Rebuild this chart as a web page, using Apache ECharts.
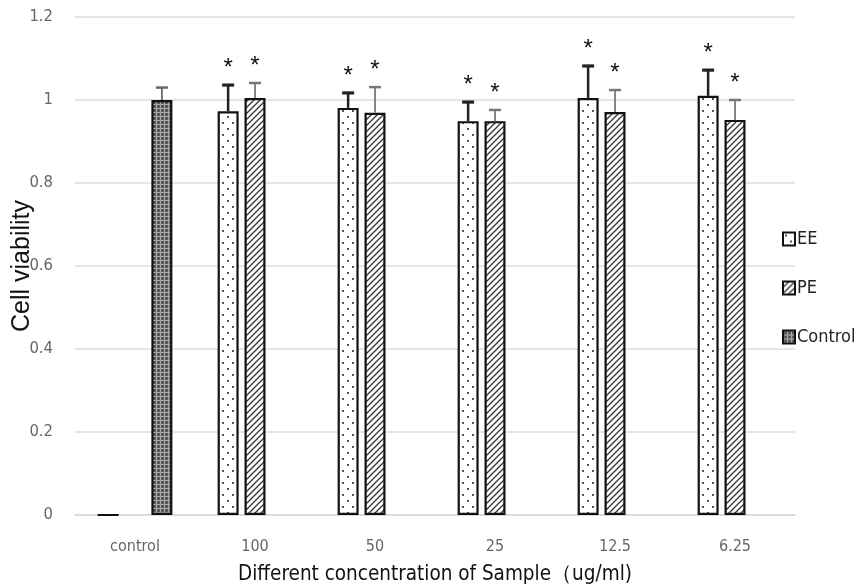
<!DOCTYPE html>
<html><head><meta charset="utf-8">
<script src="https://cdn.jsdelivr.net/npm/echarts@6/dist/echarts.min.js"></script>
<style>html,body{margin:0;padding:0;background:#fff}#c{width:860px;height:588px}</style>
</head><body><div id="c"></div>
<script>
const categories = ['control', '100', '50', '25', '12.5', '6.25'];
const eeValues = [0, 0.973, 0.981, 0.949, 1.005, 1.010];
const eeErrors = [0, 0.063, 0.036, 0.046, 0.077, 0.062];
const peValues = [null, 1.005, 0.969, 0.949, 0.971, 0.952];
const peErrors = [null, 0.036, 0.062, 0.027, 0.053, 0.048];
const controlValues = [1.0, null, null, null, null, null];
const controlErrors = [0.03, null, null, null, null, null];
const eeMarks = ['', '*', '*', '*', '*', '*'];
const peMarks = ['', '*', '*', '*', '*', '*'];
const yTicks = [0, 0.2, 0.4, 0.6, 0.8, 1.0, 1.2];

const NARROW = "'DejaVu Sans Condensed', 'Liberation Sans', sans-serif";

function makePattern(kind) {
  const c = document.createElement('canvas');
  const ctx = c.getContext('2d');
  if (kind === 'dots') {
    c.width = 10; c.height = 12;
    ctx.fillStyle = '#fff'; ctx.fillRect(0, 0, 10, 12);
    ctx.fillStyle = '#555';
    ctx.fillRect(2, 2, 2, 2);
    ctx.fillRect(7, 8, 2, 2);
  } else if (kind === 'hatch') {
    c.width = 6; c.height = 6;
    ctx.fillStyle = '#fff'; ctx.fillRect(0, 0, 6, 6);
    ctx.strokeStyle = '#333'; ctx.lineWidth = 1.3;
    ctx.beginPath();
    ctx.moveTo(-1, 7); ctx.lineTo(7, -1);
    ctx.moveTo(-1, 1); ctx.lineTo(1, -1);
    ctx.moveTo(5, 7); ctx.lineTo(7, 5);
    ctx.stroke();
  } else {
    c.width = 4; c.height = 4;
    ctx.fillStyle = '#5e5e5e'; ctx.fillRect(0, 0, 4, 4);
    ctx.fillStyle = '#a8a8a8';
    ctx.fillRect(0, 0, 1, 4);
    ctx.fillRect(0, 0, 4, 1);
    ctx.fillStyle = '#3a3a3a';
    ctx.fillRect(2, 2, 1, 1);
  }
  return { image: c, repeat: 'repeat' };
}

const BAR_W = 21, GAP = 0.28;
const seriesInfo = [
  { name: 'EE', values: eeValues, errors: eeErrors, marks: eeMarks, pattern: makePattern('dots'), errColor: '#222', errW: 2.5 },
  { name: 'PE', values: peValues, errors: peErrors, marks: peMarks, pattern: makePattern('hatch'), errColor: '#777', errW: 1.8 },
  { name: 'Control', values: controlValues, errors: controlErrors, marks: ['', '', '', '', '', ''], pattern: makePattern('grid'), errColor: '#666', errW: 1.8 }
];

const series = [];
seriesInfo.forEach((s, i) => {
  series.push({
    name: s.name, type: 'bar', barWidth: BAR_W, barGap: (GAP * 100) + '%',
    data: s.values.map(v => v === null ? '-' : v),
    itemStyle: { color: s.pattern, borderColor: '#111', borderWidth: 2.2 },
    emphasis: { disabled: true }, z: 2
  });
});
seriesInfo.forEach((s, i) => {
  const off = (i - 1) * BAR_W * (1 + GAP);
  series.push({
    type: 'custom', name: s.name + '_err', silent: true, z: 3,
    data: s.values.map((v, k) => v === null ? null : [k, v, s.errors[k]]).filter(d => d && d[2] > 0),
    renderItem: function (params, api) {
      const k = api.value(0), v = api.value(1), e = api.value(2);
      const base = api.coord([k, v]);
      const top = api.coord([k, v + e]);
      const x = base[0] + off;
      const mark = s.marks[k];
      const children = [
        { type: 'line', shape: { x1: x, y1: base[1], x2: x, y2: top[1] }, style: { stroke: s.errColor, lineWidth: s.errW } },
        { type: 'line', shape: { x1: x - 6, y1: top[1], x2: x + 6, y2: top[1] }, style: { stroke: s.errColor, lineWidth: s.errW + 0.7 } }
      ];
      if (mark) {
        children.push({ type: 'text', style: { text: mark, x: x, y: top[1] - 17, textAlign: 'center', textVerticalAlign: 'middle', fontSize: 24, fill: '#111', fontFamily: 'Liberation Sans' } });
      }
      return { type: 'group', children: children };
    }
  });
});

const chart = echarts.init(document.getElementById('c'), null, { renderer: 'canvas' });
chart.setOption({
  animation: false,
  backgroundColor: '#fff',
  grid: { left: 75, right: 65, top: 17, bottom: 73, outerBoundsMode: 'none', containLabel: false },
  legend: {
    data: ['EE', 'PE', 'Control'], orient: 'vertical', left: 777, top: 225, itemGap: 31,
    itemWidth: 12, itemHeight: 13, icon: 'rect',
    textStyle: { fontSize: 18, color: '#222', fontFamily: NARROW, padding: [0, 0, 0, -3] }
  },
  xAxis: {
    type: 'category', data: categories,
    name: 'Different concentration of Sample（ug/ml)', nameLocation: 'middle', nameGap: 49,
    nameMoveOverlap: false,
    nameTextStyle: { fontSize: 20.5, color: '#111', fontFamily: NARROW },
    axisLine: { lineStyle: { color: '#d9d9d9', width: 1.5 } },
    axisTick: { show: false },
    axisLabel: { fontSize: 16, color: '#666', margin: 24, fontFamily: NARROW }
  },
  yAxis: {
    type: 'value', min: 0, max: 1.2, interval: 0.2,
    name: 'Cell viability', nameLocation: 'middle', nameGap: 40,
    nameMoveOverlap: false,
    nameTextStyle: { fontSize: 25, color: '#111', fontFamily: 'Liberation Sans' },
    axisLine: { show: false }, axisTick: { show: false },
    axisLabel: { fontSize: 16.5, color: '#666', margin: 22, fontFamily: NARROW,
      formatter: v => { const t = yTicks.find(y => Math.abs(y - v) < 1e-6); return t === undefined ? '' : String(+t.toFixed(1)); } },
    splitLine: { lineStyle: { color: '#dcdcdc', width: 1.5 } }
  },
  series: series
});
</script></body></html>
